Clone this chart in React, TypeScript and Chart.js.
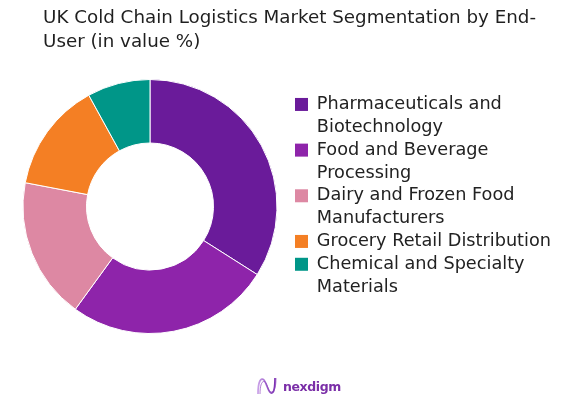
import React, { useEffect, useRef } from "react";
import { Chart, registerables } from "chart.js";

Chart.register(...registerables);

const TITLE_LINES = ["UK Cold Chain Logistics Market Segmentation by End-", "User (in value %)"];
const CATEGORIES: string[][] = [
  ["Pharmaceuticals and", "Biotechnology"],
  ["Food and Beverage", "Processing"],
  ["Dairy and Frozen Food", "Manufacturers"],
  ["Grocery Retail Distribution"],
  ["Chemical and Specialty", "Materials"],
];
const VALUES = [34, 26, 18, 14, 8];
const COLORS = ["#6A1B9A", "#8E24AA", "#DD88A3", "#F47F24", "#009688"];

const FONT = "'DejaVu Sans', sans-serif";

export default function App() {
  const ref = useRef<HTMLCanvasElement>(null);
  useEffect(() => {
    if (!ref.current) return;
    const baseGen = (Chart as any).overrides.doughnut.plugins.legend.labels.generateLabels;
    const chart = new Chart(ref.current, {
      type: "doughnut",
      data: {
        labels: CATEGORIES as any,
        datasets: [
          {
            data: VALUES,
            backgroundColor: COLORS,
            borderColor: "#ffffff",
            borderWidth: 1,
            radius: 127,
            cutout: 63,
          } as any,
        ],
      },
      options: {
        responsive: false,
        animation: false,
        layout: { padding: { left: 5, right: 7, top: 80, bottom: 71 } },
        plugins: {
          title: { display: false },
          tooltip: { enabled: false },
          legend: {
            display: true,
            position: "right",
            align: "start",
            title: {
              display: true,
              text: "",
              font: { size: 1, lineHeight: 1 },
              padding: { top: 14.6, bottom: 0 },
            },
            labels: {
              boxWidth: 13,
              boxHeight: 13,
              padding: 0,
              color: "#222222",
              font: { family: FONT, size: 17.7, lineHeight: 1.29 },
              generateLabels: (c: any) => baseGen(c).map((l: any) => ({ ...l, lineWidth: 0 })),
            },
          },
        },
      },
    });
    return () => chart.destroy();
  }, []);

  return (
    <div style={{ position: "fixed", left: 0, top: 0, width: 568, height: 404, background: "#fff", overflow: "hidden" }}>
      <canvas ref={ref} width={568} height={404} style={{ position: "absolute", left: 0, top: 0, width: 568, height: 404 }} />
      <div
        style={{
          position: "absolute",
          left: 43,
          top: 4.7,
          fontFamily: FONT,
          fontSize: 18.3,
          lineHeight: "24px",
          color: "#1f1f1f",
          whiteSpace: "nowrap",
        }}
      >
        {TITLE_LINES.map((t) => (
          <div key={t}>{t}</div>
        ))}
      </div>
      <div style={{ position: "absolute", left: 256, top: 376, display: "flex", alignItems: "center" }}>
        <svg width="22" height="20" viewBox="0 0 22 20">
          <defs>
            <linearGradient id="lg" x1="0" y1="0" x2="1" y2="0">
              <stop offset="0" stopColor="#c9a0e8" />
              <stop offset="1" stopColor="#7a2fb0" />
            </linearGradient>
          </defs>
          <path d="M2 18 C2 5, 5 1, 8 4 C11 8, 12 16, 15 17 C18 18, 19 11, 19 2" fill="none" stroke="url(#lg)" strokeWidth="1.7" />
          <path d="M4 18 C4 7, 7 3, 10 7 C12 11, 13 17, 16 16 C19 15, 20 9, 20 2" fill="none" stroke="#8e44c0" strokeWidth="1" opacity="0.7" />
        </svg>
        <span style={{ fontFamily: FONT, fontWeight: "bold", fontSize: 12.5, color: "#7b2fa8", marginLeft: 5, letterSpacing: -0.4 }}>
          nexdigm
        </span>
      </div>
    </div>
  );
}
